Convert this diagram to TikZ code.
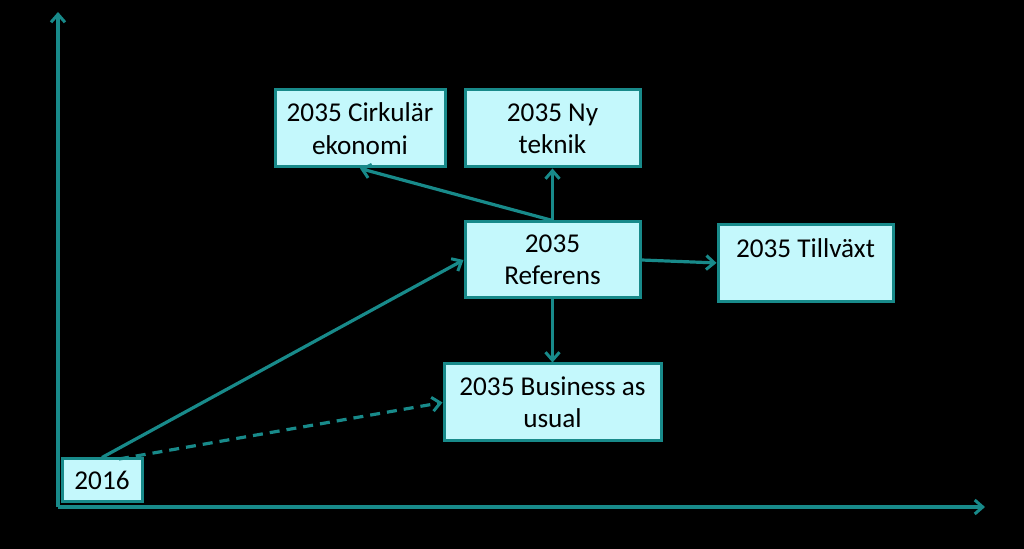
\documentclass[tikz,border=0pt]{standalone}
\usepackage{fontspec}
\setmainfont{Carlito}
\usetikzlibrary{arrows.meta}
\definecolor{axisteal}{RGB}{24,138,138}
\definecolor{boxfill}{RGB}{196,248,252}

\begin{document}
\begin{tikzpicture}[
		x=0.5pt, y=-0.5pt,
		box/.style={rectangle, draw=axisteal, fill=boxfill, line width=1.5pt, align=center,
			font=\fontsize{13.6}{16.2}\selectfont, text=black},
		link/.style={draw=axisteal, line width=1.6pt, -{Straight Barb[length=4pt, width=7pt, line width=1.5pt]}}
	]
  \fill[black] (0,0) rectangle (1024,549);
  \useasboundingbox (0,0) rectangle (1024,549);
  \coordinate (origin) at (58,507);
  \coordinate (y_tip) at (58,12);
  \coordinate (x_tip) at (985,507);
  \draw[link] (origin) -- (y_tip);
  \draw[link] (origin) -- (x_tip);
  \node (cirk) [box, minimum width=85pt, minimum height=38.5pt] at (360,128.5) {2035 Cirkulär\\ekonomi};
  \node (nyteknik) [box, minimum width=87.5pt, minimum height=38.5pt] at (552.5,128.5) {2035 Ny\\teknik};
  \node (ref) [box, minimum width=87.5pt, minimum height=38pt] at (552.5,260) {2035\\Referens};
  \node (tillv) [box, align=left, anchor=north, minimum width=87.5pt, inner ysep=7pt, text depth=15pt] at (805.5,223) {2035 Tillväxt};
  \node (bau) [box, minimum width=108.5pt, minimum height=38.5pt] at (552.5,402.5) {2035 Business as\\usual};
  \node (y2016) [box, minimum width=40pt, minimum height=21.5pt] at (102,480.5) {2016};
  \coordinate (dash_start) at (119,459);
  \draw[link] (ref.north) -- (cirk.south);
  \draw[link] (ref.north) -- (nyteknik.south);
  \draw[link] (ref.east) -- (tillv.west);
  \draw[link] (ref.south) -- (bau.north);
  \draw[link] (y2016.north) -- (ref.west);
  \draw[link, dash pattern=on 5pt off 3.5pt] (dash_start) -- (bau.west);
\end{tikzpicture}
\end{document}
